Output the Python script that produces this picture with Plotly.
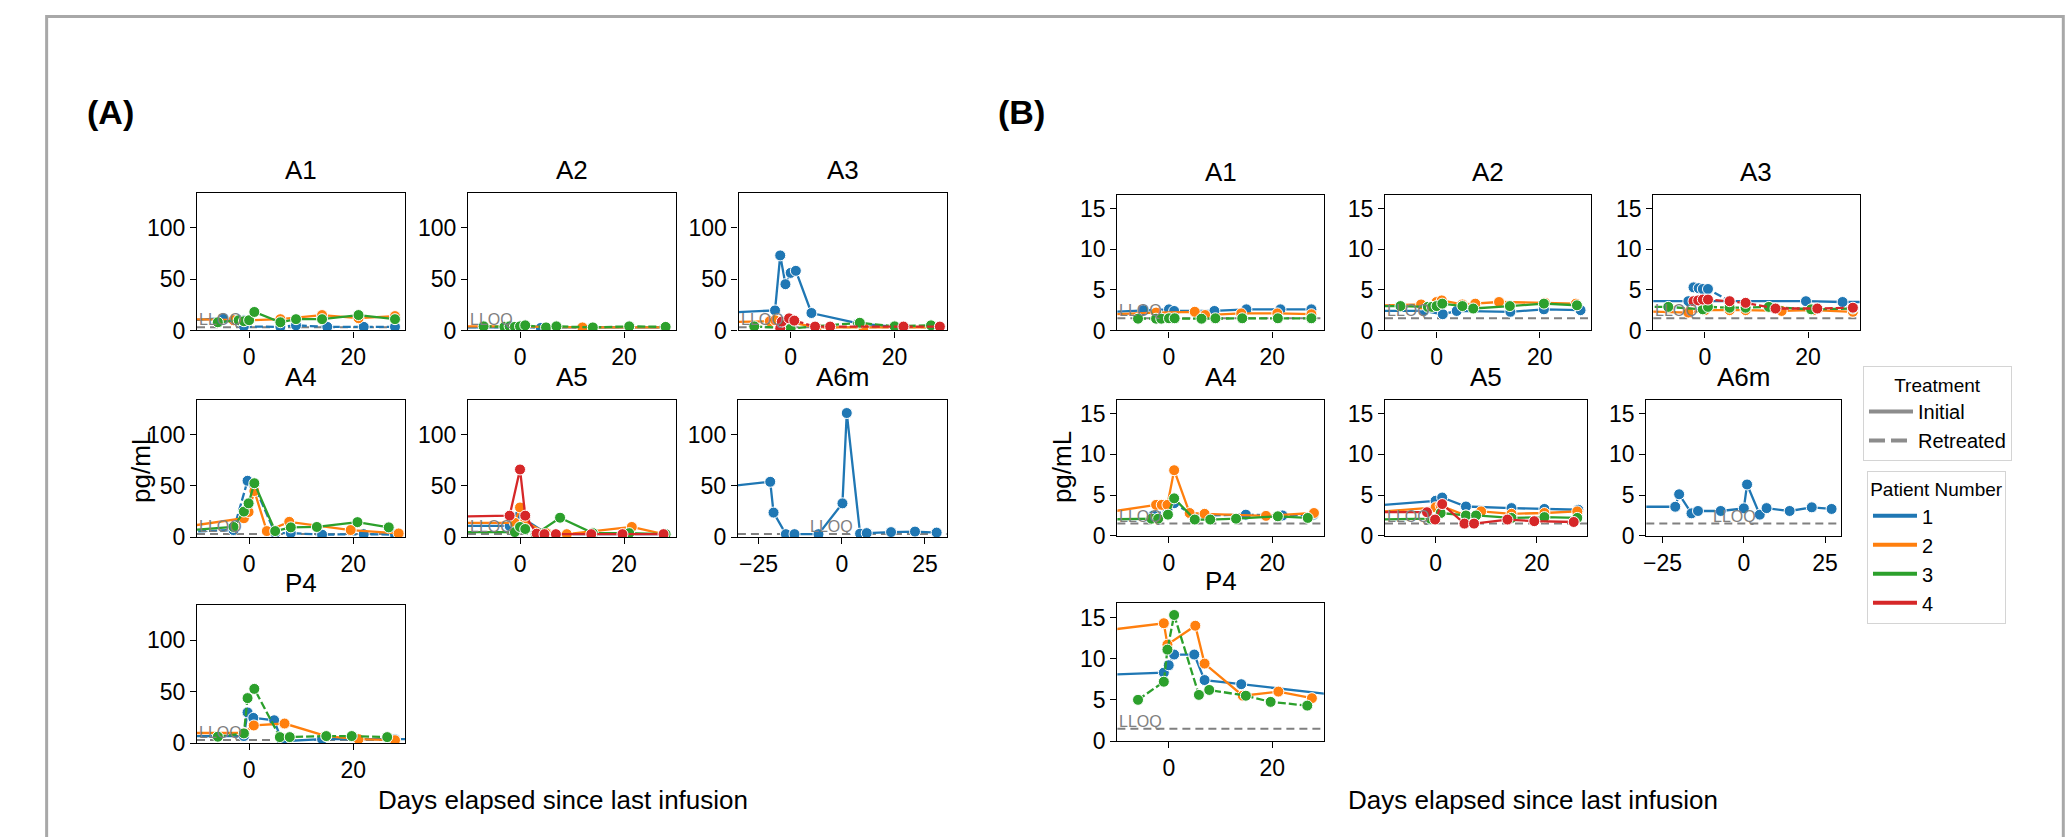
import plotly.graph_objects as go

W, H = 2066, 837

# ---------------- data ----------------
PATIENT_COLORS = {1: "#1f77b4", 2: "#ff7f0e", 3: "#2ca02c", 4: "#d62728"}
PATIENTS = [1, 2, 3, 4]
TREATMENTS = ["Initial", "Retreated"]
PANEL_NAMES = ["A1", "A2", "A3", "A4", "A5", "A6m", "P4"]
LLOQ_A = 3.1
LLOQ_B = 1.5

# (patient, treatment, days since last infusion, pg/mL) -- panel (A)
A_A1 = [
    (1, "Initial", [-14, -5, -1], [9, 12, 10]),
    (1, "Retreated", [-1, 6, 9, 15, 22, 28], [4, 3.5, 5, 3.5, 3.5, 3.5]),
    (2, "Initial", [-14, -3, 0, 6, 14, 21, 28], [11, 10, 10, 11, 15, 12, 14]),
    (3, "Initial", [-6, -2, -1, 0, 1, 6, 9, 14, 21, 28], [8, 10, 9, 10, 18, 8, 11, 11, 15, 11]),
]
A_A2 = [
    (1, "Initial", [-14, -1, 4, 28], [3, 3, 2.5, 3]),
    (2, "Initial", [-14, -3, 12, 28], [4, 4, 3, 3]),
    (3, "Retreated", [-7, -3, -2, -1, 0, 1, 5, 7, 14, 21, 28], [4, 3.5, 4, 3.5, 4, 5, 3, 4, 3, 4, 3.5]),
]
A_A3 = [
    (1, "Initial", [-14, -3, -2, -1, 0, 1, 4, 13, 20], [17, 19.5, 73, 45, 56, 58, 17, 7, 3.5]),
    (2, "Initial", [-14, -4, -3, 0, 5, 14, 20, 28], [8, 9, 10, 8, 3, 3, 3, 3]),
    (3, "Retreated", [-7, 0, 13.3, 20, 27], [4, 2, 7.5, 4, 5]),
    (4, "Retreated", [-2, -1.7, -0.3, 0.7, 4.7, 7.6, 21.7, 28.7], [2, 8.6, 11.8, 9.6, 3.8, 3.8, 3.8, 3.8]),
]
A_A4 = [
    (1, "Retreated", [-14, -3, -0.3, 1, 5, 8, 14, 22, 28], [5, 7, 55, 50, 4, 4, 2.5, 3, 2.5]),
    (2, "Initial", [-14, -1, -0.1, 1, 3.4, 7.7, 19.5, 28.7], [9, 18.5, 24.6, 45, 6, 15, 7, 3.7]),
    (3, "Initial", [-14, -3, -1, -0.1, 1, 5, 8, 13, 20.8, 26.8], [6, 10, 25, 33, 52.6, 6, 9.6, 10, 14.7, 9.6]),
]
A_A5 = [
    (1, "Initial", [-14, -2, 0, 1, 5, 9, 14, 21, 28], [11, 11, 22, 17, 4, 3, 3, 3, 3]),
    (2, "Initial", [-14, -1, 0, 1, 5, 9, 21.5, 27.6], [14, 14, 29, 15, 4, 3, 10, 3]),
    (3, "Initial", [-14, -1, 0, 1, 3, 7.7, 14, 21, 28], [5, 5, 10, 8, 3, 19, 4, 4, 3]),
    (4, "Initial", [-14, -2, 0, 1, 3.2, 4.7, 6.9, 13.7, 19.7, 27.6], [20, 21, 66, 21, 3.5, 3, 3, 3, 3, 3]),
]
A_A6M = [
    (1, "Initial", [-36, -21.5, -20.5, -16.8, -14.2, -7, 0.2, 1.5, 5.5, 7.5, 14.8, 22, 28.5],
     [49, 54, 24, 3, 3, 3, 33, 121, 3.5, 4, 5, 5.5, 4.5]),
]
A_P4 = [
    (1, "Initial", [-14, -1, -0.3, 0.8, 4.8, 6.3, 14, 21, 28, 34], [7, 7, 30, 24.7, 22.4, 2, 4, 4, 4, 4]),
    (2, "Initial", [-14, -1, 0.9, 6.8, 14.8, 21, 28], [10, 10, 17.3, 19.2, 7, 4, 3]),
    (3, "Retreated", [-6, -1, -0.3, 1, 5.9, 7.8, 14.8, 19.7, 26.5], [6.4, 9.6, 43.9, 52.9, 6, 6, 7, 7, 6]),
]

# panel (B)
B_A1 = [
    (1, "Initial", [-14, -5, 0, 1, 8.8, 15, 21.6, 27.6], [2.2, 2.5, 2.6, 2.4, 2.4, 2.6, 2.6, 2.6]),
    (2, "Initial", [-14, -2.5, 5, 7, 14, 21, 27.6], [1.9, 2.2, 2.3, 1.9, 2.1, 2.1, 2.0]),
    (3, "Retreated", [-6, -2.5, -1.5, 0, 1.1, 6.3, 9, 14.2, 21.1, 27.6],
     [1.45, 1.45, 1.45, 1.5, 1.5, 1.45, 1.5, 1.5, 1.5, 1.5]),
]
B_A2 = [
    (1, "Initial", [-14, -2.5, 1.2, 3.9, 14.3, 20.8, 27.9], [2.4, 2.4, 2.0, 2.4, 2.3, 2.6, 2.5]),
    (2, "Initial", [-14, -3, 0, 1, 5, 7.5, 12.1, 21, 27], [3.0, 3.2, 3.5, 3.7, 3.2, 3.3, 3.5, 3.4, 3.3]),
    (3, "Initial", [-14, -7, -1.7, -0.9, 0, 1.1, 5, 7.1, 14.2, 20.8, 27.2],
     [3.0, 3.0, 2.9, 2.9, 3.0, 3.3, 3.0, 2.7, 3.0, 3.3, 3.1]),
]
B_A3 = [
    (1, "Initial", [-14, -3.2, 19.6, 26.7, 34], [3.6, 3.6, 3.6, 3.5, 3.5]),
    (1, "Retreated", [-2.2, -1.2, -0.4, 0.6, 4.8], [5.3, 5.2, 5.1, 5.1, 3.6]),
    (2, "Initial", [-14, -3.2, 0, 4.8, 7.9, 14.9, 21, 28.7], [2.4, 2.2, 2.5, 2.5, 2.5, 2.4, 2.5, 2.3]),
    (3, "Retreated", [-14, -7.1, -0.4, 0.6, 4.8, 7.9, 12.4, 20.6, 28.7], [2.9, 2.9, 2.6, 2.9, 2.8, 2.8, 2.9, 2.6, 2.7]),
    (4, "Retreated", [-2.2, -1.3, -0.4, 0.6, 4.8, 7.9, 13.7, 21.8, 28.7], [3.6, 3.7, 3.8, 3.8, 3.6, 3.4, 2.7, 2.7, 2.8]),
]
B_A4 = [
    (1, "Retreated", [-3, -0.3, 1, 4, 7, 14.9, 22, 28], [2.5, 3.2, 4.0, 2.8, 2.5, 2.6, 2.5, 2.6]),
    (2, "Initial", [-14, -2.5, -1.4, -0.3, 1, 4, 6.9, 18.8, 28.1], [2.7, 3.8, 3.8, 3.8, 8.05, 2.8, 2.7, 2.45, 2.8]),
    (3, "Initial", [-14, -3.4, -2.1, -0.2, 1, 5, 8, 13, 21.1, 26.9], [2.0, 2.1, 2.1, 2.6, 4.6, 2.0, 2.0, 2.1, 2.4, 2.2]),
]
B_A5 = [
    (1, "Initial", [-14, 0, 1.3, 6, 15, 21.5, 28.2], [3.6, 4.3, 4.7, 3.6, 3.4, 3.3, 3.2]),
    (2, "Initial", [-14, 0, 1, 6, 9, 15, 21.5, 28], [2.8, 3.5, 3.7, 2.5, 3.0, 2.7, 2.8, 3.0]),
    (3, "Initial", [-14, -1, 1, 6, 8, 15, 21.5, 28], [2.0, 2.1, 2.8, 2.5, 2.5, 2.2, 2.3, 2.2]),
    (4, "Initial", [-14, -1.7, -0.1, 1.3, 5.7, 7.6, 14.2, 19.5, 27.3], [2.9, 2.9, 2.0, 3.9, 1.5, 1.5, 2.0, 1.8, 1.7]),
]
B_A6M = [
    (1, "Initial", [-36, -21.1, -19.9, -16.1, -14.1, -7.1, 0, 1, 4.9, 7, 14.1, 20.9, 27],
     [3.57, 3.57, 5.1, 2.76, 3.05, 3.05, 3.37, 6.3, 2.6, 3.4, 3.05, 3.5, 3.3]),
]
B_P4 = [
    (1, "Initial", [-14, -1, -0.05, 1, 4.9, 6.9, 14, 35], [8.0, 8.3, 9.2, 10.5, 10.5, 7.4, 6.9, 5.4]),
    (2, "Initial", [-14, -1, -0.3, 5.1, 6.9, 14.3, 21.2, 27.7], [13.3, 14.3, 11.7, 14.0, 9.4, 5.5, 6.0, 5.2]),
    (3, "Retreated", [-6, -1, -0.3, 1, 5.8, 7.8, 14.9, 19.7, 26.8], [5.0, 7.2, 11.1, 15.3, 5.6, 6.2, 5.5, 4.75, 4.3]),
]

# ---------------- layout geometry (pixels) ----------------
FONT = "Liberation Sans, Arial, sans-serif"
A_BOXES = {  # name: (x0, x1, ytop, ybottom)
    "A1": (194.3, 403, 195.7, 335.7), "A2": (465.7, 674, 195.7, 335.7), "A3": (736.7, 945, 195.7, 335.7),
    "A4": (194.3, 403, 406, 545.7), "A5": (465.7, 674, 406, 545.7), "A6m": (736, 945, 406, 545.7),
    "P4": (194.3, 403, 615, 755),
}
B_BOXES = {
    "A1": (1116, 1322.7, 197.7, 335.7), "A2": (1384, 1590.7, 197.7, 335.7), "A3": (1652.7, 1859.3, 197.7, 335.7),
    "A4": (1116, 1322.7, 406, 544.3), "A5": (1384, 1586.7, 406, 544.3), "A6m": (1645.7, 1841, 406, 544.3),
    "P4": (1116, 1322.7, 613, 752.7),
}
A_DATA = dict(zip(PANEL_NAMES, [A_A1, A_A2, A_A3, A_A4, A_A5, A_A6M, A_P4]))
B_DATA = dict(zip(PANEL_NAMES, [B_A1, B_A2, B_A3, B_A4, B_A5, B_A6M, B_P4]))


def px(v):
    return v / W


def py(v):
    return 1 - v / H


fig = go.Figure()
layout = {}
annotations = []
shapes = []

panels = []
for name in PANEL_NAMES:
    panels.append(("A", name, A_BOXES[name], A_DATA[name], LLOQ_A, [0, 134], 50,
                   [-31.2, 31.5] if name == "A6m" else [-10, 30]))
for name in PANEL_NAMES:
    panels.append(("B", name, B_BOXES[name], B_DATA[name], LLOQ_B, [0, 16.7], 5,
                   [-30, 30] if name == "A6m" else [-10, 30]))

for k, (grp, name, box, series, lloq, yrange, ydtick, xrange_) in enumerate(panels, start=1):
    x0, x1, yt, yb = box
    xa = "x" if k == 1 else f"x{k}"
    ya = "y" if k == 1 else f"y{k}"
    axis_common = dict(showline=True, mirror=True, linecolor="black", linewidth=1.3,
                       ticks="outside", ticklen=6, tickwidth=1.3, tickcolor="black",
                       showgrid=False, zeroline=False,
                       tickfont=dict(family=FONT, size=23, color="black"))
    layout["xaxis" if k == 1 else f"xaxis{k}"] = dict(
        domain=[px(x0), px(x1)], anchor=ya, range=xrange_, tick0=0,
        dtick=25 if name == "A6m" else 20, **axis_common)
    layout["yaxis" if k == 1 else f"yaxis{k}"] = dict(
        domain=[py(yb), py(yt)], anchor=xa, range=yrange, tick0=0, dtick=ydtick, **axis_common)

    # LLOQ reference line and label
    shapes.append(dict(type="line", xref=f"{xa} domain", x0=0, x1=1, yref=ya, y0=lloq, y1=lloq,
                       line=dict(color="#808080", width=2, dash="8px,5px"), layer="below"))
    annotations.append(dict(text="LLOQ", xref=xa, yref=ya, x=-10, y=lloq, xanchor="left",
                            yanchor="bottom", showarrow=False, yshift=-3,
                            font=dict(family=FONT, size=16, color="#808080")))
    # subplot title
    annotations.append(dict(text=name, xref="paper", yref="paper", x=px((x0 + x1) / 2), y=py(yt - 6),
                            xanchor="center", yanchor="bottom", showarrow=False,
                            font=dict(family=FONT, size=26, color="black")))

    for patient, treat, days, vals in series:
        fig.add_trace(go.Scatter(
            x=days, y=vals, xaxis=xa, yaxis=ya, mode="lines+markers", showlegend=False,
            line=dict(color=PATIENT_COLORS[patient], width=2.3,
                      dash="solid" if treat == "Initial" else "8px,3px"),
            marker=dict(size=11, color=PATIENT_COLORS[patient], line=dict(color="white", width=1)),
            hovertemplate=f"{grp} {name} patient {patient} ({treat})<br>day %{{x}}<br>%{{y}} pg/mL<extra></extra>",
        ))

# legend-only traces
for treat in TREATMENTS:
    fig.add_trace(go.Scatter(x=[None], y=[None], mode="lines", name=treat, legend="legend",
                             line=dict(color="#8c8c8c", width=4,
                                       dash="solid" if treat == "Initial" else "16px,6px")))
for p in PATIENTS:
    fig.add_trace(go.Scatter(x=[None], y=[None], mode="lines", name=str(p), legend="legend2",
                             line=dict(color=PATIENT_COLORS[p], width=4)))

# panel labels, axis labels
for lbl, cx in (("(A)", 108), ("(B)", 1020)):
    annotations.append(dict(text=f"<b>{lbl}</b>", xref="paper", yref="paper", x=px(cx), y=py(114),
                            xanchor="center", yanchor="middle", showarrow=False,
                            font=dict(family=FONT, size=34, color="black")))
for cx in (560.6, 1532):
    annotations.append(dict(text="Days elapsed since last infusion", xref="paper", yref="paper",
                            x=px(cx), y=py(813), xanchor="center", yanchor="middle", showarrow=False,
                            font=dict(family=FONT, size=26, color="black")))
for cx in (137.5, 1060):
    annotations.append(dict(text="pg/mL", xref="paper", yref="paper", textangle=-90,
                            x=px(cx), y=py(474), xanchor="center", yanchor="middle", showarrow=False,
                            font=dict(family=FONT, size=26, color="black")))

# outer frame
shapes.append(dict(type="rect", xref="paper", yref="paper", x0=px(43.7), x1=px(2063.3),
                   y0=-0.05, y1=py(16.7), line=dict(color="#a8a8a8", width=3)))

leg_common = dict(xanchor="left", yanchor="top", bgcolor="white", bordercolor="#d4d4d4", borderwidth=1,
                  font=dict(family=FONT, size=20, color="black"), itemwidth=44, tracegroupgap=0)
fig.update_layout(
    width=W, height=H, margin=dict(l=0, r=0, t=0, b=0),
    paper_bgcolor="white", plot_bgcolor="white",
    annotations=annotations, shapes=shapes,
    legend=dict(title=dict(text="Treatment", side="top center", font=dict(family=FONT, size=19)),
                x=px(1862.7), y=py(372), **leg_common),
    legend2=dict(title=dict(text="Patient Number", side="top center", font=dict(family=FONT, size=19)),
                 x=px(1866.7), y=py(478), **leg_common),
    **layout,
)

fig.write_html("out.html")
